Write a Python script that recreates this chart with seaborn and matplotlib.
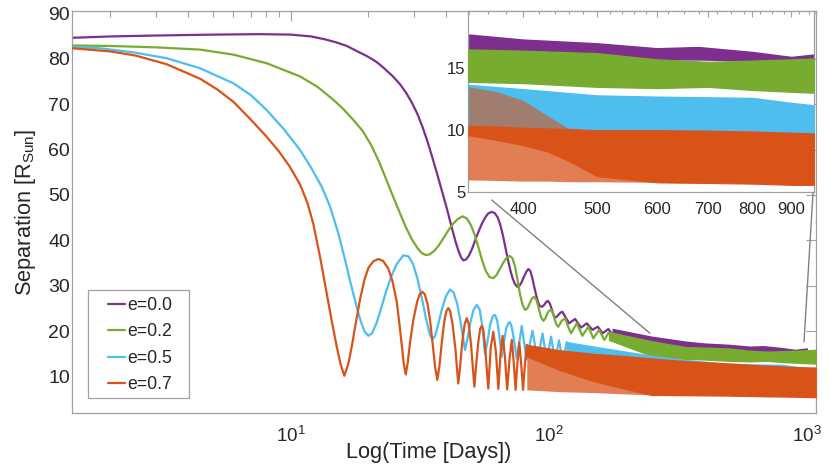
import numpy as np
import pandas as pd
import seaborn as sns
import matplotlib
matplotlib.use("Agg")
import matplotlib.pyplot as plt
import matplotlib.ticker as mticker
from matplotlib.lines import Line2D
from matplotlib.patches import Rectangle
from matplotlib.legend_handler import HandlerLine2D

# ---------------- data ----------------
labels = ["e=0.0", "e=0.2", "e=0.5", "e=0.7"]

# resolved parts of the curves (time in days, separation in R_sun)
t_e00 = [1.424, 2.0, 3.0, 5.0, 7.6, 10, 12, 13.5, 15, 16.5, 18, 19.7, 21.5, 23, 24.8, 26.5,
         28, 29.5, 31, 32.5, 34, 35.5, 37, 38.5, 40.3, 42, 43.5, 44.8, 45.8, 46.7, 47.8, 49,
         50.5, 52, 53.5, 55, 56.5, 58.2, 60.1, 61.8, 63.5, 65, 66.5, 68, 69.5, 71, 72.5, 74,
         75.5, 77, 78.5, 80, 81.7, 83.3, 84.8, 86.3, 88, 89.7, 91, 92.5, 94.2, 96, 97.6, 99.1,
         100.8, 102.5, 104.2, 105.8, 107.5, 109.3, 111.1, 112.9, 119.9, 126.5, 133.4, 140.4,
         147.6, 154.9, 161.9, 170.2, 177.0]
y_e00 = [84.6, 84.9, 85.1, 85.3, 85.4, 85.3, 84.9, 84.3, 83.6, 82.8, 81.7, 80.6, 79.3, 77.9,
         76.2, 74.4, 72.5, 70.3, 67.8, 64.8, 61.5, 58.0, 54.5, 51.0, 47.0, 43.0, 39.8, 37.5,
         36.2, 35.6, 35.8, 36.6, 38.2, 40.2, 42.0, 43.6, 44.9, 45.9, 46.3, 46.0, 45.0, 43.3,
         41.0, 38.3, 35.7, 33.4, 31.6, 30.4, 29.8, 30.0, 30.8, 31.9, 33.0, 33.7, 33.3, 31.8,
         29.6, 27.6, 26.3, 25.5, 25.4, 25.8, 26.4, 26.7, 26.2, 25.0, 23.7, 23.0, 23.2, 23.7,
         24.1, 24.3, 21.75, 22.7, 20.8, 21.75, 20.3, 21.0, 19.55, 20.5, 19.2]

t_e02 = [1.424, 2.0, 3.0, 4.45, 5.99, 8.07, 10.87, 12.7, 14.6, 16, 17.5, 19, 20.5, 22, 23.5,
         25, 26.5, 28, 29.5, 31, 32.2, 33.3, 34.5, 36, 37.5, 39, 40.7, 42.5, 44.4, 46.3, 48.2,
         50, 51.8, 53.5, 55.2, 57, 59, 61, 62.8, 64.6, 66.5, 68.5, 70.5, 72.3, 74, 75.7, 77.4,
         79.2, 80.9, 82.6, 84.4, 86.1, 87.9, 89.7, 91.5, 93.4, 95.3, 97, 98.7, 100.4, 102.1,
         103.8, 105.5, 107.2, 108.9, 112.3, 115.7, 118.9, 122.0, 128.4, 135.0, 142.4, 148.9,
         156.7, 164.2, 171.3]
y_e02 = [82.9, 82.8, 82.5, 82.0, 80.9, 79.0, 76.1, 73.8, 71.0, 68.9, 66.5, 64.1, 61.0, 57.3,
         53.3, 49.5, 46.0, 42.8, 40.2, 38.3, 37.2, 36.8, 36.9, 37.7, 38.9, 40.4, 42.1, 43.6,
         44.7, 45.3, 44.8, 43.3, 41.0, 38.3, 35.6, 33.3, 31.9, 31.7, 32.4, 33.7, 35.0, 36.1,
         36.6, 36.1, 34.3, 31.3, 28.1, 25.8, 24.7, 25.0, 26.2, 27.2, 27.6, 26.8, 25.0, 23.1,
         22.3, 22.8, 23.9, 24.5, 24.7, 24.0, 22.6, 21.4, 21.0, 22.3, 22.85, 21.0, 19.55,
         21.75, 19.0, 21.0, 18.45, 20.3, 18.1, 19.8]

t_e05 = [1.424, 1.82, 2.45, 3.31, 4.45, 5.99, 7.0, 8.07, 9.4, 10.87, 12.0, 13.19, 14.2, 15.3,
         16.2, 17.0, 17.8, 18.6, 19.3, 20.0, 20.7, 21.5, 22.4, 23.4, 24.5, 25.7, 27.3, 28.6,
         29.8, 31.0, 32.3, 33.5, 34.6, 35.4, 36.3, 37.4, 38.6, 39.9, 41.4, 42.8, 44.2, 45.6,
         46.7, 47.4, 48.4, 49.7, 51.1, 52.6, 54.0, 55.3, 56.6, 57.8, 59.3, 60.7, 61.9, 63.1,
         64.4, 65.7, 66.8, 68.4, 69.8, 70.8, 72.0, 73.6, 75.2, 78.6, 82.0, 86.5, 90.5, 94.6,
         98.2, 102.1, 105.8, 109.6, 113.3, 117.4]
y_e05 = [82.6, 82.3, 81.4, 80.1, 77.9, 74.6, 72.0, 68.7, 64.5, 59.9, 56.0, 51.8, 47.5, 41.5,
         36.0, 31.0, 26.5, 22.5, 20.0, 19.0, 19.6, 21.8, 25.0, 28.7, 32.0, 34.7, 36.7, 36.5,
         34.8, 31.5, 27.0, 22.6, 19.3, 18.2, 19.0, 21.8, 25.0, 27.6, 29.2, 28.5, 26.0, 21.8,
         18.0, 15.9, 18.3, 22.0, 24.7, 25.8, 24.8, 21.0, 15.0, 17.5, 21.5, 23.3, 23.6, 22.4,
         19.0, 14.4, 17.0, 20.6, 21.8, 22.0, 20.8, 17.5, 14.0, 21.2, 13.8, 20.1, 13.7, 19.5,
         13.6, 18.8, 13.5, 18.0, 13.4, 17.6]

t_e07 = [1.424, 2.0, 2.5, 3.3, 4.45, 5.2, 6.0, 7.0, 8.07, 9.0, 9.9, 10.87, 11.6, 12.24, 13.0,
         13.79, 14.45, 15.08, 15.6, 16.13, 16.7, 17.24, 17.9, 18.56, 19.3, 19.99, 20.9, 21.85,
         22.8, 23.89, 24.8, 25.75, 26.4, 26.93, 27.4, 27.91, 28.4, 29.0, 29.87, 30.9, 31.6,
         32.36, 33.1, 33.9, 34.67, 35.6, 36.3, 37.0, 37.7, 38.5, 39.4, 40.1, 40.8, 41.5, 42.4,
         43.5, 44.1, 44.6, 45.3, 46.2, 47.2, 48.1, 49.0, 50.0, 50.8, 51.5, 52.3, 53.3, 54.2,
         55.0, 55.8, 56.7, 57.5, 58.3, 59.6, 61.0, 62.4, 63.8, 65.0, 66.3, 67.6, 69.0, 70.5,
         71.9, 73.1, 74.4, 75.6, 76.9, 78.2, 79.5, 80.8, 82.2]
y_e07 = [82.3, 81.6, 80.7, 78.8, 75.6, 73.2, 70.5, 66.6, 62.8, 59.6, 56.3, 52.3, 48.3, 43.6,
         36.3, 28.3, 22.0, 16.6, 12.8, 10.2, 12.7, 16.6, 22.0, 27.0, 31.3, 33.9, 35.4, 35.9,
         35.5, 33.8, 31.0, 26.5, 21.5, 17.0, 13.0, 10.5, 13.0, 17.5, 22.5, 26.5, 28.1, 28.7,
         28.1, 26.0, 22.5, 16.5, 12.0, 9.3, 12.3, 17.5, 22.3, 24.4, 25.1, 24.4, 21.5, 16.0,
         11.8, 8.5, 12.0, 17.5, 21.5, 22.9, 21.5, 17.0, 12.0, 7.8, 12.5, 17.5, 20.5, 21.2,
         20.2, 16.5, 11.8, 7.4, 16.5, 19.9, 15.5, 7.3, 15.0, 19.0, 14.5, 7.2, 14.0, 18.1,
         13.5, 7.1, 13.0, 17.5, 12.8, 7.1, 12.5, 17.0]

# dense (unresolved) oscillation envelopes: time, lower and upper bound
bt_e00 = [177, 250, 340, 400, 500, 600, 680, 800, 900, 1000]
lo_e00 = [19.2, 17.6, 16.2, 16.0, 15.8, 15.7, 15.7, 15.6, 15.6, 15.6]
hi_e00 = [20.5, 18.8, 17.7, 17.3, 17.0, 16.6, 16.7, 16.3, 15.9, 16.2]

bt_e02 = [171.3, 250, 340, 400, 500, 600, 700, 800, 900, 1083]
lo_e02 = [18.1, 14.6, 13.9, 13.8, 13.5, 13.4, 13.5, 13.25, 13.1, 12.9]
hi_e02 = [19.8, 17.8, 16.5, 16.4, 16.2, 15.7, 15.5, 15.6, 15.7, 15.9]

bt_e05 = [117.4, 150, 250, 339, 400, 500, 600, 800, 900, 965]
lo_e05 = [13.4, 12.5, 10.8, 10.0, 9.95, 9.9, 9.9, 9.85, 9.8, 9.8]
hi_e05 = [17.6, 16.6, 14.6, 13.65, 13.3, 12.8, 12.7, 12.6, 12.2, 12.0]

bt_e07 = [82.2, 110, 150, 200, 250, 340, 500, 700, 900, 1083]
lo_e07 = [7.1, 6.7, 6.5, 6.2, 6.0, 5.95, 5.85, 5.7, 5.6, 5.5]
core_lo_e07 = [14.5, 11.5, 9.0, 7.3, 6.0, 5.95, 5.85, 5.7, 5.6, 5.5]
hi_e07 = [17.0, 15.8, 15.0, 14.5, 14.0, 13.4, 12.9, 12.4, 12.1, 12.0]

# e=0.7 as it appears in the zoomed inset (solid core plus sparse spikes)
it_e07 = [339, 370, 400, 430, 460, 500, 600, 700, 800, 900, 964]
ilo_e07 = [6.0, 5.95, 5.9, 5.9, 5.85, 5.85, 5.8, 5.75, 5.7, 5.6, 5.6]
icore_lo_e07 = [9.6, 9.2, 8.8, 8.3, 7.5, 6.3, 5.8, 5.75, 5.7, 5.6, 5.6]
icore_hi_e07 = [10.35, 10.3, 10.2, 10.15, 10.1, 10.0, 10.0, 9.97, 9.9, 9.8, 9.75]
ispike_hi_e07 = [13.5, 13.1, 12.4, 11.2, 10.1, 10.0, 10.0, 9.97, 9.9, 9.8, 9.75]

main_xticks = [10, 100, 1000]
main_yticks = [10, 20, 30, 40, 50, 60, 70, 80, 90]
inset_xticks = [400, 500, 600, 700, 800, 900]
inset_xticklabels = ["400", "500", "600", "700", "800", "900"]
inset_xminor = [340, 360, 380, 420, 440, 460, 480, 520, 540, 560, 580, 620, 650, 680,
                720, 750, 780, 820, 850, 880, 920, 950]
inset_yticks = [5, 10, 15]

# ---------------- style ----------------
sns.set_theme(style="white")
plt.rcParams["font.family"] = ["Liberation Sans", "DejaVu Sans"]
plt.rcParams["mathtext.fontset"] = "custom"
plt.rcParams["mathtext.rm"] = "Liberation Sans"
plt.rcParams["mathtext.it"] = "Liberation Sans:italic"
plt.rcParams["mathtext.bf"] = "Liberation Sans:bold"

colors = ["#7E2F8E", "#77AC30", "#4DBEEE", "#D95319"]
SPINE = "#a0a0a0"
TXT = "#262626"
W, H = 830, 468

fig = plt.figure(figsize=(W / 100, H / 100), dpi=100)
fig.patch.set_facecolor("white")


def fr(x0, y0, x1, y1):
    return [x0 / W, 1 - y1 / H, (x1 - x0) / W, (y1 - y0) / H]


ax = fig.add_axes(fr(72.3, 11, 815.7, 413.3))
ins = fig.add_axes(fr(468.3, 11, 814, 192.3))

series = [
    (t_e00, y_e00, bt_e00, lo_e00, hi_e00),
    (t_e02, y_e02, bt_e02, lo_e02, hi_e02),
    (t_e05, y_e05, bt_e05, lo_e05, hi_e05),
    (t_e07, y_e07, bt_e07, lo_e07, hi_e07),
]

for i, (t, y, bt, lo, hi) in enumerate(series):
    df = pd.DataFrame({"t": t, "y": y})
    sns.lineplot(data=df, x="t", y="y", color=colors[i], lw=1.6, ax=ax,
                 estimator=None, sort=False, legend=False, zorder=2 + i)
    if i < 3:
        ax.fill_between(bt, lo, hi, color=colors[i], lw=1.0, zorder=2 + i)
        ins.fill_between(bt, lo, hi, color=colors[i], lw=1.0, zorder=2 + i)

# main orange dense part: sparse spikes at the bottom, solid above
ax.fill_between(bt_e07, lo_e07, core_lo_e07, color=colors[3], alpha=0.75, lw=0, zorder=5)
ax.fill_between(bt_e07, core_lo_e07, hi_e07, color=colors[3], lw=1.0, zorder=5)

# inset orange
ins.fill_between(it_e07, ilo_e07, icore_lo_e07, color=colors[3], alpha=0.75, lw=0, zorder=5)
ins.fill_between(it_e07, icore_lo_e07, icore_hi_e07, color=colors[3], lw=0.8, zorder=5)
ins.fill_between(it_e07, icore_hi_e07, ispike_hi_e07, color=colors[3], alpha=0.6, lw=0, zorder=5)

# ---------------- main axes ----------------
ax.set_xscale("log")
ax.set_xlim(1.424, 1083)
ax.set_ylim(1.94, 90.5)
ax.set_xticks(main_xticks)
ax.xaxis.set_minor_locator(mticker.LogLocator(base=10, subs=np.arange(2, 10)))
ax.xaxis.set_minor_formatter(mticker.NullFormatter())
ax.set_yticks(main_yticks)
ax.tick_params(which="both", direction="in", top=True, right=True, color=SPINE,
               labelcolor=TXT, width=0.8)
ax.tick_params(which="major", length=7)
ax.tick_params(which="minor", length=4)
ax.tick_params(axis="y", labelsize=14, pad=1.5)
ax.tick_params(axis="x", labelsize=13.5, pad=9)
for s in ax.spines.values():
    s.set_color(SPINE)
    s.set_linewidth(0.9)
ax.set_xlabel("Log(Time [Days])", fontsize=15.7, color=TXT)
ax.set_ylabel(r"Separation [R$_{\rm Sun}$]", fontsize=15.7, color=TXT)
ax.xaxis.set_label_coords(0.479, -0.072)
ax.yaxis.set_label_coords(-0.0465, 0.5)

# legend
handles = [Line2D([], [], color=c, lw=1.6) for c in colors]


class RightLine(HandlerLine2D):
    def create_artists(self, legend, orig_handle, xdescent, ydescent, width, height,
                       fontsize, trans):
        arts = super().create_artists(legend, orig_handle, xdescent, ydescent, width,
                                      height, fontsize, trans)
        for a in arts:
            xd = np.asarray(a.get_xdata(), dtype=float)
            if len(xd) >= 2:
                start = xd[0] + (xd[-1] - xd[0]) * 0.45
                a.set_xdata(np.linspace(start, xd[-1], len(xd)))
        return arts


ax.add_patch(Rectangle((88.3 / W, 1 - 398.3 / H), 100.4 / W, 108.3 / H,
                       transform=fig.transFigure, facecolor="white", edgecolor=SPINE,
                       lw=0.9, zorder=8))
leg = ax.legend(handles, labels, loc="upper left",
                bbox_to_anchor=(94 / W, 1 - 297 / H), bbox_transform=fig.transFigure,
                frameon=False, fontsize=12.7, handlelength=1.75, handletextpad=0.12,
                labelspacing=0.53, borderpad=0, borderaxespad=0,
                handler_map={Line2D: RightLine()})
leg.set_zorder(9)
for tx in leg.get_texts():
    tx.set_color(TXT)

# ---------------- inset ----------------
ins.set_facecolor("white")
ins.set_xscale("log")
ins.set_xlim(339, 964)
ins.set_ylim(5, 19.6)
ins.xaxis.set_major_locator(mticker.FixedLocator(inset_xticks))
ins.xaxis.set_major_formatter(mticker.FixedFormatter(inset_xticklabels))
ins.xaxis.set_minor_locator(mticker.FixedLocator(inset_xminor))
ins.xaxis.set_minor_formatter(mticker.NullFormatter())
ins.set_yticks(inset_yticks)
ins.tick_params(which="both", direction="in", top=True, right=True, color=SPINE,
                labelcolor=TXT, width=0.8, labelsize=12)
ins.tick_params(which="major", length=4)
ins.tick_params(which="minor", length=2.5)
ins.tick_params(axis="x", pad=7)
ins.tick_params(axis="y", pad=2.2)
for s in ins.spines.values():
    s.set_color(SPINE)
    s.set_linewidth(0.9)
ins.set_xlabel("")
ins.set_ylabel("")

# zoom connector lines
for (x0, y0, x1, y1) in [(491.7, 200, 650, 333.3), (813, 193, 804, 341.7)]:
    fig.add_artist(Line2D([x0 / W, x1 / W], [1 - y0 / H, 1 - y1 / H],
                          transform=fig.transFigure, color="#808080", lw=1.0))

fig.savefig("out.png", dpi=100, facecolor="white")
